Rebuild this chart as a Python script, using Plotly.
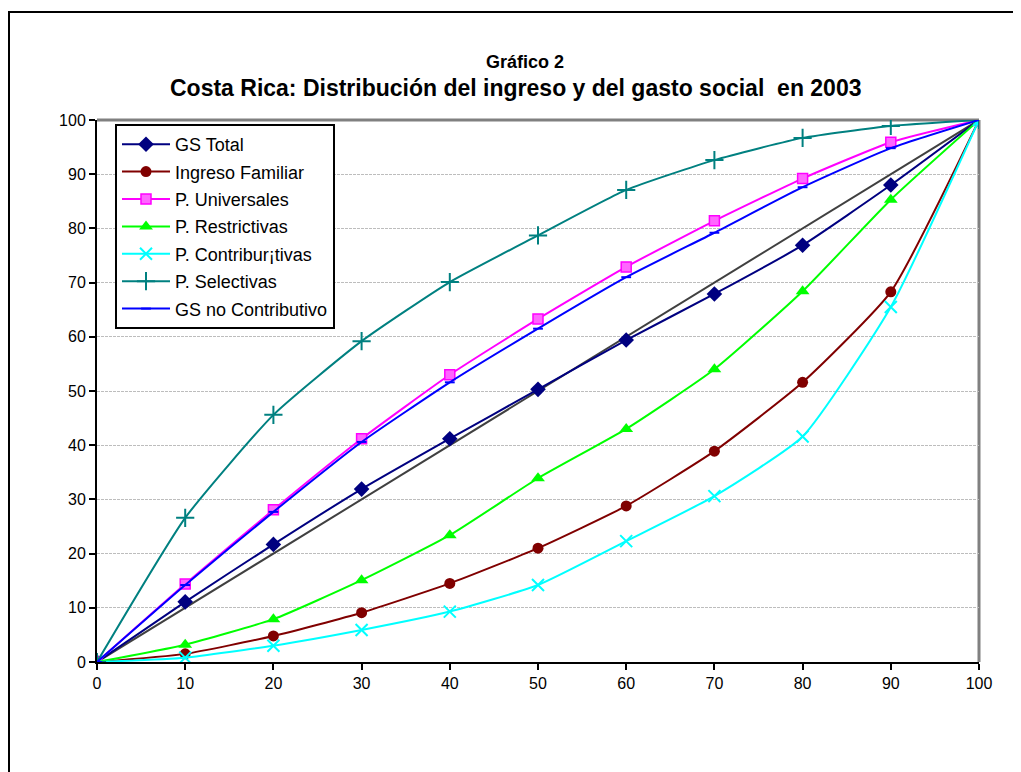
import plotly.graph_objects as go

x_vals = [0, 10, 20, 30, 40, 50, 60, 70, 80, 90, 100]

gs_total = [0, 11.1, 21.7, 31.9, 41.2, 50.3, 59.4, 67.9, 76.9, 88.0, 100]
ingreso_familiar = [0, 1.5, 4.8, 9.1, 14.5, 21.0, 28.8, 38.9, 51.6, 68.3, 100]
p_universales = [0, 14.4, 28.1, 41.2, 53.0, 63.3, 72.9, 81.4, 89.2, 95.9, 100]
p_restrictivas = [0, 3.2, 7.9, 15.1, 23.4, 33.9, 43.0, 54.0, 68.4, 85.3, 100]
p_contributivas = [0, 0.8, 3.0, 5.9, 9.3, 14.2, 22.3, 30.6, 41.6, 65.5, 100]
p_selectivas = [0, 26.6, 45.6, 59.2, 70.1, 78.7, 87.1, 92.6, 96.7, 98.9, 100]
gs_no_contrib = [0, 14.2, 27.7, 40.6, 51.6, 61.5, 71.0, 79.2, 87.6, 94.8, 100]
equality = [0, 100]
equality_x = [0, 100]

series = [
    ("GS Total", gs_total, "#000080", "diamond", 12, None),
    ("Ingreso Familiar", ingreso_familiar, "#800000", "circle", 11, None),
    ("P. Universales", p_universales, "#FF00FF", "square", 10, None),
    ("P. Restrictivas", p_restrictivas, "#00FF00", "triangle-up", 12, None),
    ("P. Contribur¡tivas", p_contributivas, "#00FFFF", "x-thin", 12, 2),
    ("P. Selectivas", p_selectivas, "#008080", "cross-thin", 13, 2),
    ("GS no Contributivo", gs_no_contrib, "#0000FF", "line-ew", 7, 2),
]

# page offset of the figure inside the browser body (8px default body margin)
OFF = 8
W, H = 1013, 764
PL, PR, PT, PB = 97 - OFF, 979 - OFF, 120 - OFF, 662 - OFF
pw, ph = PR - PL, PB - PT


def px(xs):
    return (xs - OFF - PL) / pw


def py(ys):
    return 1 - (ys - OFF - PT) / ph


fig = go.Figure()

fig.add_trace(go.Scatter(
    x=equality_x, y=equality, mode="lines",
    line=dict(color="#404040", width=2), showlegend=False, hoverinfo="skip"))

for i, (name, vals, color, sym, size, lw) in enumerate(series):
    marker = dict(symbol=sym, size=size, color=color)
    if lw is not None:
        marker["line"] = dict(color=color, width=lw)
    elif sym == "square":
        marker["line"] = dict(color=color, width=1.5)
        marker["color"] = "#FF66FF"
    fig.add_trace(go.Scatter(
        x=x_vals, y=vals, mode="lines+markers", name=name,
        legendgroup=f"g{i}",
        line=dict(color=color, width=2, shape="spline", smoothing=0.5),
        marker=marker))

fig.update_layout(
    width=W, height=H,
    margin=dict(l=PL, r=W - PR, t=PT, b=H - PB),
    paper_bgcolor="white", plot_bgcolor="white",
    font=dict(family="Liberation Sans, Arial, sans-serif", size=16, color="black"),
    showlegend=True,
    legend=dict(
        x=px(115), y=py(124), xanchor="left", yanchor="top",
        bgcolor="white", bordercolor="black", borderwidth=2,
        font=dict(size=18), tracegroupgap=1, itemwidth=48,
    ),
    xaxis=dict(
        range=[0, 100], tickmode="array", tickvals=x_vals,
        ticks="outside", ticklen=6, tickwidth=2, tickcolor="black",
        showline=True, linecolor="black", linewidth=2,
        showgrid=False, zeroline=False, tickfont=dict(size=16),
    ),
    yaxis=dict(
        range=[0, 100], tickmode="array", tickvals=list(range(0, 101, 10)),
        ticks="outside", ticklen=6, tickwidth=2, tickcolor="black",
        showline=True, linecolor="black", linewidth=2,
        showgrid=True, gridcolor="#BDBDBD", griddash="3px,1px", gridwidth=1,
        zeroline=False, tickfont=dict(size=16),
    ),
)

# top and right plot-area border (grey)
fig.add_shape(type="line", xref="paper", yref="paper", x0=0, x1=1, y0=1, y1=1,
              line=dict(color="#808080", width=3), layer="below")
fig.add_shape(type="line", xref="paper", yref="paper", x0=1, x1=1, y0=0, y1=1,
              line=dict(color="#808080", width=3), layer="below")

# outer chart frame
fig.add_shape(type="rect", xref="paper", yref="paper",
              x0=px(9), x1=px(1019),
              y0=py(790), y1=py(12),
              line=dict(color="black", width=2), layer="below")

fig.add_annotation(text="<b>Gráfico 2</b>", xref="paper", yref="paper",
                   x=px(525), y=py(62), showarrow=False,
                   font=dict(size=18), xanchor="center", yanchor="middle")
fig.add_annotation(text="<b>Costa Rica: Distribución del ingreso y del gasto social  en 2003</b>",
                   xref="paper", yref="paper",
                   x=px(515), y=py(88), showarrow=False,
                   font=dict(size=23), xanchor="center", yanchor="middle")

fig.write_html("out.html")
